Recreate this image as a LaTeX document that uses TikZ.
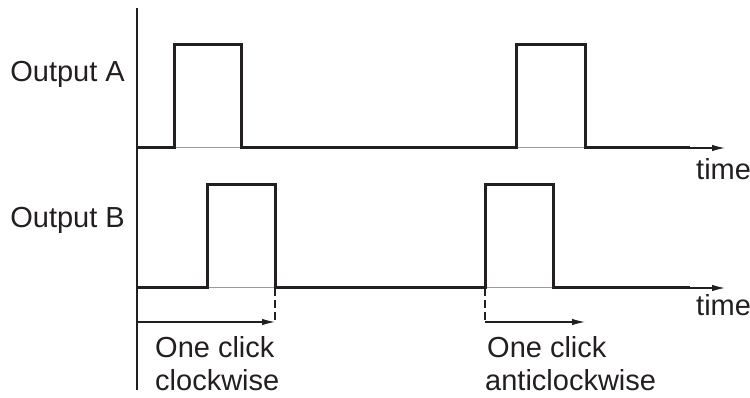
\documentclass[tikz,border=0pt]{standalone}
\usepackage{fontspec}
\setmainfont{Liberation Sans}
\usetikzlibrary{arrows.meta}
\definecolor{ink}{HTML}{231F20}
\begin{document}
\begin{tikzpicture}[x=1pt,y=-1pt,
  wave/.style={line width=3pt, line join=miter, draw=ink},
  thinline/.style={line width=1.2pt, draw=ink},
  faint/.style={line width=1pt, draw=ink!45},
  axarrow/.style={thinline, -{Latex[length=13pt,width=6.5pt]}},
  marker/.style={line width=1.2pt, draw=ink, dash pattern=on 8pt off 4pt},
  lbl/.style={font=\fontsize{29}{33}\selectfont, text=ink, inner sep=0pt}]
\useasboundingbox (0,0) rectangle (750,398);
% coordinates
\coordinate (top) at (137,8);
\coordinate (bot) at (137,390);
\coordinate (a0) at (137,148);
\coordinate (athin) at (680,148);
\coordinate (aend) at (725,148);
\coordinate (b0) at (137,288);
\coordinate (bthin) at (680,288);
\coordinate (bend) at (725,288);
\coordinate (m1top) at (275,288);
\coordinate (m1) at (275,322);
\coordinate (m2top) at (485,288);
\coordinate (m2) at (485,322);
\coordinate (s1) at (137,322);
\coordinate (e2) at (585,322);
% vertical axis
\draw[thinline] (top) -- (bot);
% time axes (faint under pulses, dark arrow at end)
\draw[faint] (a0) -- (athin);
\draw[faint] (b0) -- (bthin);
\draw[axarrow] (athin) -- (aend);
\draw[axarrow] (bthin) -- (bend);
% Output A waveform
\draw[wave] (a0) -- (174,148) -- (174,45) -- (241,45) -- (241,148) -- (516,148)
  -- (516,45) -- (585,45) -- (585,148) -- (690,148);
% Output B waveform
\draw[wave] (b0) -- (207,288) -- (207,185) -- (275,185) -- (275,288) -- (485,288)
  -- (485,185) -- (553,185) -- (553,288) -- (690,288);
% markers
\draw[marker] (m1top) -- (m1);
\draw[marker] (m2top) -- (m2);
\draw[axarrow] (s1) -- (m1);
\draw[axarrow] (m2) -- (e2);
% labels
\node[lbl, anchor=base east] (outA) at (125,82) {Output A};
\node[lbl, anchor=base east] (outB) at (125,228) {Output B};
\node[lbl, anchor=base west] (t1) at (696,180) {time};
\node[lbl, anchor=base west] (t2) at (696,316) {time};
\node[lbl, anchor=base west] (c1a) at (155,357) {One click};
\node[lbl, anchor=base west] (c1b) at (155,390) {clockwise};
\node[lbl, anchor=base west] (c2a) at (487,357) {One click};
\node[lbl, anchor=base west] (c2b) at (485,390) {anticlockwise};
\end{tikzpicture}
\end{document}
